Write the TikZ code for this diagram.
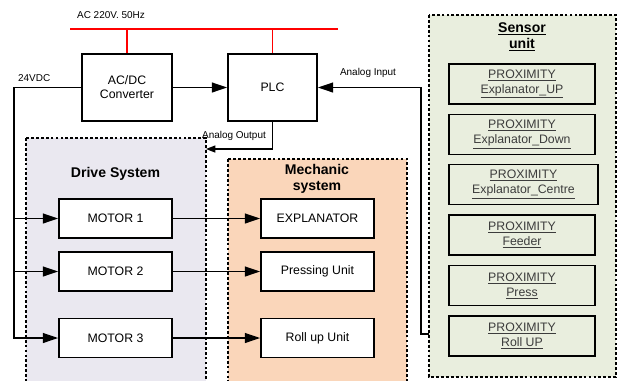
\documentclass[tikz,border=0pt]{standalone}
\usepackage{fontspec}
\setmainfont{Liberation Sans}
\usetikzlibrary{arrows.meta, positioning}
\definecolor{drvfill}{RGB}{234, 232, 240}
\definecolor{mechfill}{RGB}{250, 214, 186}
\definecolor{sensfill}{RGB}{233, 238, 222}
\definecolor{senstext}{RGB}{60, 60, 60}

\begin{document}
\begin{tikzpicture}[
    x=0.03cm, y=-0.03cm,
    blk/.style={draw, line width=1.6pt, fill=white,
                minimum width=3.39cm, minimum height=1.17cm,
                align=center, font=\fontsize{10.5}{12}\selectfont},
    bigblk/.style={blk, minimum width=2.7cm, minimum height=2.01cm},
    sensbox/.style={draw, line width=1.6pt, fill=sensfill,
                minimum width=4.38cm, minimum height=1.2cm,
                align=center, text=senstext,
                font=\fontsize{10.5}{12.8}\selectfont},
    area/.style={draw, line width=1.2pt, dash pattern=on 2.4pt off 1.8pt},
    title/.style={align=center, font=\fontsize{12}{14}\selectfont\bfseries},
    lbl/.style={font=\fontsize{8.5}{10}\selectfont},
    arr/.style={-{Triangle[length=13pt, width=8.5pt]}, line width=1.1pt},
    sarr/.style={-{Triangle[length=8pt, width=6pt]}, line width=1.1pt},
    ac/.style={red, line width=1.3pt},
  ]
    \clip (0,0) rectangle (619,380);

    % Containers
    \draw[area, fill=drvfill]  (26,138) rectangle (206,390);
    \draw[area, fill=mechfill] (228,159) rectangle (407,390);
    \draw[area, fill=sensfill] (429,15) rectangle (616,377);

    \node[title] (drvt)  at (115.5,174) {Drive System};
    \node[title] (mecht) at (317,179)   {Mechanic\\system};
    \node[title] (senst) at (522,37)    {\underline{Sensor}\\\underline{unit}};

    % Supply and controller
    \node[lbl, anchor=west] (aclbl) at (73,15) {AC 220V. 50Hz};
    \coordinate (acl) at (70,29);
    \coordinate (acr) at (338,29);
    \node[bigblk] (acdc) at (127,87.5) {AC/DC\\Converter};
    \node[bigblk, minimum width=2.67cm] (plc) at (272.5,87.5) {PLC};

    % Motors
    \node[blk] (m1) at (115.5,218.5) {MOTOR 1};
    \node[blk] (m2) at (115.5,271.5) {MOTOR 2};
    \node[blk] (m3) at (115.5,338)   {MOTOR 3};

    % Mechanic parts
    \node[blk] (expl)  at (317.5,218.5) {EXPLANATOR};
    \node[blk] (press) at (317.5,271.5) {Pressing Unit};
    \node[blk] (roll)  at (317.5,338)   {Roll up Unit};

    % Sensors
    \node[sensbox] (s1) at (522,84)    {\underline{PROXIMITY}\\\underline{Explanator\_UP}};
    \node[sensbox] (s2) at (522,134.5) {\underline{PROXIMITY}\\\underline{Explanator\_Down}};
    \node[sensbox, minimum width=4.47cm] (s3) at (523.5,184.5)
      {\underline{PROXIMITY}\\\underline{Explanator\_Centre}};
    \node[sensbox] (s4) at (522,235)   {\underline{PROXIMITY}\\\underline{Feeder}};
    \node[sensbox] (s5) at (522,285.5) {\underline{PROXIMITY}\\\underline{Press}};
    \node[sensbox] (s6) at (522,336)   {\underline{PROXIMITY}\\\underline{Roll UP}};

    % Connections
    \draw[ac] (acl) -- (acr);
    \draw[ac] (acdc.north) -- (acdc.north |- acl);
    \draw[ac] (plc.north) -- (plc.north |- acl);
    \draw[arr] (acdc) -- (plc);

    \coordinate (dc) at (14,87.5);
    \node[lbl, anchor=west] (dclbl) at (14,78) {24VDC};
    \draw[arr] (acdc.west) -- (dc) |- (m3);
    \draw[arr] (dc |- m1) -- (m1);
    \draw[arr] (dc |- m2) -- (m2);

    \draw[arr] (m1) -- (expl);
    \draw[arr] (m2) -- (press);
    \draw[arr] (m3) -- (roll);

    \coordinate (aout) at (206,149);
    \draw[sarr] (plc.south) |- (aout);
    \node[lbl] (aoutlbl) at (234,136) {Analog Output};

    \coordinate (sin) at (429,334);
    \coordinate (ain) at (421,334);
    \draw[arr] (sin) -- (ain) |- (plc.east);
    \node[lbl] (ainlbl) at (368,73) {Analog Input};
  \end{tikzpicture}
\end{document}
